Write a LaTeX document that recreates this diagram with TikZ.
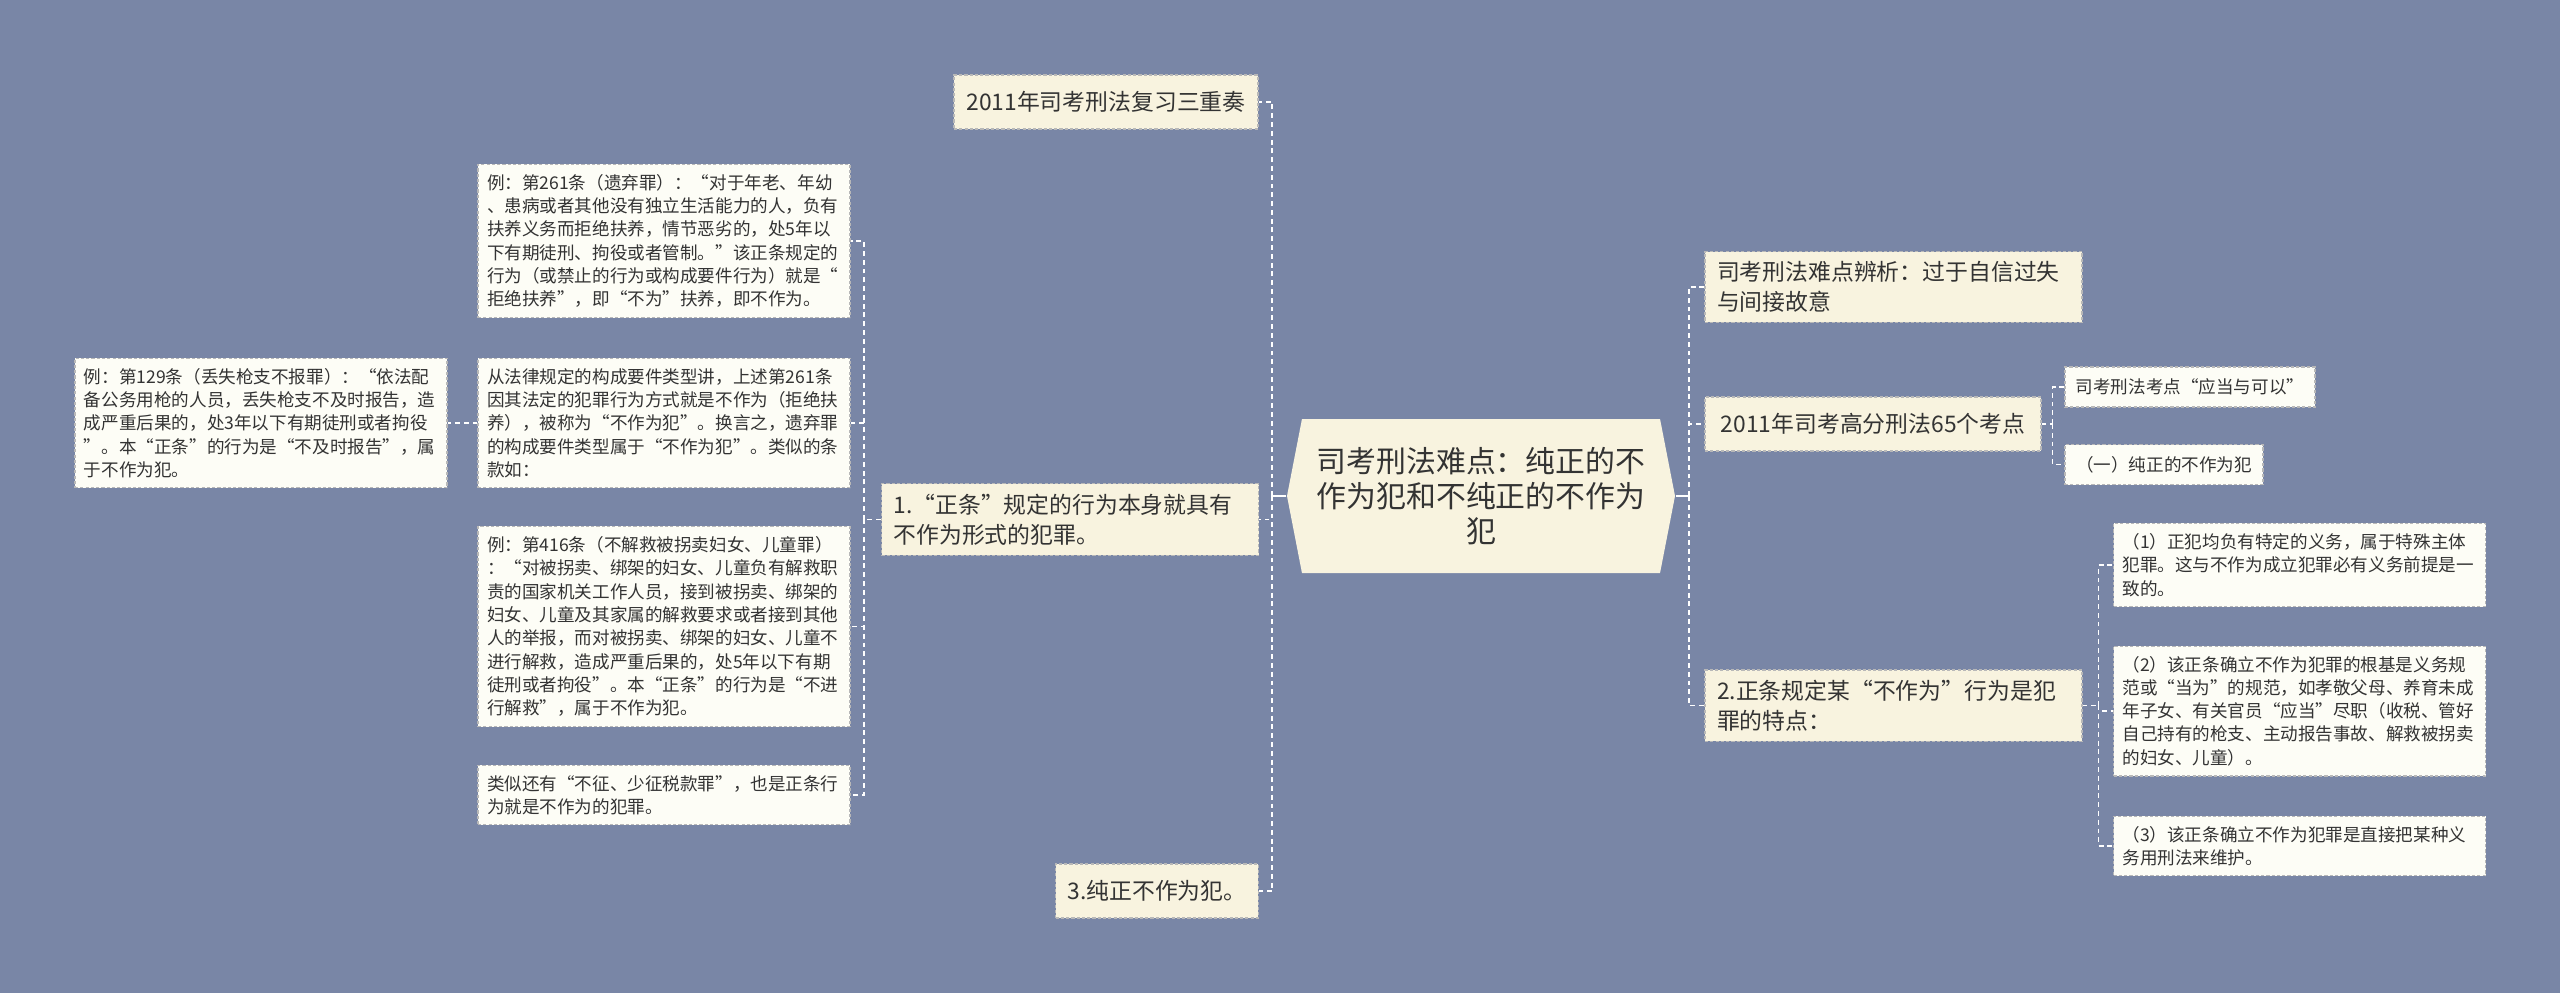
\documentclass[tikz,border=0pt]{standalone}
\usepackage{fontspec}
\setmainfont{Noto Sans CJK SC}
\usetikzlibrary{
	shapes.symbols
}
\definecolor{bgblue}{HTML}{7986A6}
\definecolor{cream}{HTML}{F8F3DF}
\definecolor{paper}{HTML}{FDFDF6}
\definecolor{ink}{HTML}{333333}

\begin{document}
\begin{tikzpicture}[
	box/.style={
		rectangle,
		draw=black!28,
		line width=0.3pt,
		dash pattern=on 0.9pt off 0.6pt,
		text=ink,
		align=left,
		inner ysep=0.1cm
	},
	root/.style={
		signal,
		signal to=west and east,
		signal pointer angle=158,
		fill=cream,
		text=ink,
		align=center,
		font=\fontsize{8.5}{9.96}\selectfont,
		minimum width=3.88cm,
		minimum height=1.54cm,
		inner sep=0pt
	},
	topic/.style={box, fill=cream, font=\fontsize{6.5}{8.5}\selectfont, inner xsep=0.12cm, minimum height=0.54cm},
	wide/.style={topic, text width=3.53cm},
	leaf/.style={box, fill=paper, font=\fontsize{5}{6.63}\selectfont, inner xsep=0.09cm, text width=3.54cm},
	tag/.style={box, fill=paper, font=\fontsize{5}{6.63}\selectfont, inner xsep=0.1cm, minimum height=0.4cm},
	trunk/.style={draw=white, line width=0.55pt},
	link/.style={draw=white, line width=0.5pt, dash pattern=on 1.4pt off 1.1pt}
]

\useasboundingbox[fill=bgblue] (0,0) rectangle (25.6,-9.93);

\node[root] (root) at (14.81,-4.96) {司考刑法难点：纯正的不\\作为犯和不纯正的不作为\\犯};

% Linke Seite
\node[topic, minimum width=3.04cm] (l0) at (11.06,-1.02) {2011年司考刑法复习三重奏};
\node[wide] (l1) at (10.70,-5.195) {1.“正条”规定的行为本身就具有\\不作为形式的犯罪。};
\node[topic, minimum width=2.02cm] (l3) at (11.57,-8.91) {3.纯正不作为犯。};

\draw[trunk] (root.west) -- ++(-0.14,0) coordinate (lhub);
\draw[link] (lhub) |- (l0.east);
\draw[link] (lhub) |- (l1.east);
\draw[link] (lhub) |- (l3.east);

% Beispiele
\node[leaf] (ex261) at (6.64,-2.41) {例：第261条（遗弃罪）：“对于年老、年幼\\、患病或者其他没有独立生活能力的人，负有\\扶养义务而拒绝扶养，情节恶劣的，处5年以\\下有期徒刑、拘役或者管制。”该正条规定的\\行为（或禁止的行为或构成要件行为）就是“\\拒绝扶养”，即“不为”扶养，即不作为。};
\node[leaf] (kind) at (6.64,-4.23) {从法律规定的构成要件类型讲，上述第261条\\因其法定的犯罪行为方式就是不作为（拒绝扶\\养），被称为“不作为犯”。换言之，遗弃罪\\的构成要件类型属于“不作为犯”。类似的条\\款如：};
\node[leaf] (ex129) at (2.61,-4.23) {例：第129条（丢失枪支不报罪）：“依法配\\备公务用枪的人员，丢失枪支不及时报告，造\\成严重后果的，处3年以下有期徒刑或者拘役\\”。本“正条”的行为是“不及时报告”，属\\于不作为犯。};
\node[leaf] (ex416) at (6.64,-6.265) {例：第416条（不解救被拐卖妇女、儿童罪）\\：“对被拐卖、绑架的妇女、儿童负有解救职\\责的国家机关工作人员，接到被拐卖、绑架的\\妇女、儿童及其家属的解救要求或者接到其他\\人的举报，而对被拐卖、绑架的妇女、儿童不\\进行解救，造成严重后果的，处5年以下有期\\徒刑或者拘役”。本“正条”的行为是“不进\\行解救”，属于不作为犯。};
\node[leaf] (tax) at (6.64,-7.95) {类似还有“不征、少征税款罪”，也是正条行\\为就是不作为的犯罪。};

\draw[link] (l1.west) -- ++(-0.17,0) coordinate (l1hub);
\draw[link] (l1hub) |- (ex261.east);
\draw[link] (l1hub) |- (kind.east);
\draw[link] (l1hub) |- (ex416.east);
\draw[link] (l1hub) |- (tax.east);
\draw[link] (kind.west) -- (ex129.east);

% Rechte Seite
\node[wide] (r1) at (18.935,-2.87) {司考刑法难点辨析：过于自信过失\\与间接故意};
\node[topic, minimum width=3.36cm] (r2) at (18.73,-4.24) {2011年司考高分刑法65个考点};
\node[wide] (r3) at (18.935,-7.055) {2.正条规定某“不作为”行为是犯\\罪的特点：};

\draw[trunk] (root.east) -- ++(0.13,0) coordinate (rhub);
\draw[link] (rhub) |- (r1.west);
\draw[link] (rhub) |- (r2.west);
\draw[link] (rhub) |- (r3.west);

% Kennzeichen
\node[tag, minimum width=2.50cm] (ask) at (21.90,-3.87) {司考刑法考点“应当与可以”};
\node[tag, minimum width=1.98cm] (pure) at (21.64,-4.645) {（一）纯正的不作为犯};

\draw[link] (r2.east) -- ++(0.11,0) coordinate (r2hub);
\draw[link] (r2hub) |- (ask.west);
\draw[link] (r2hub) |- (pure.west);

\node[leaf] (duty) at (22.995,-5.65) {（1）正犯均负有特定的义务，属于特殊主体\\犯罪。这与不作为成立犯罪必有义务前提是一\\致的。};
\node[leaf] (norm) at (22.995,-7.11) {（2）该正条确立不作为犯罪的根基是义务规\\范或“当为”的规范，如孝敬父母、养育未成\\年子女、有关官员“应当”尽职（收税、管好\\自己持有的枪支、主动报告事故、解救被拐卖\\的妇女、儿童）。};
\node[leaf] (guard) at (22.995,-8.46) {（3）该正条确立不作为犯罪是直接把某种义\\务用刑法来维护。};

\draw[link] (r3.east) -- ++(0.16,0) coordinate (r3hub);
\draw[link] (r3hub) |- (duty.west);
\draw[link] (r3hub) |- (norm.west);
\draw[link] (r3hub) |- (guard.west);
\end{tikzpicture}
\end{document}
